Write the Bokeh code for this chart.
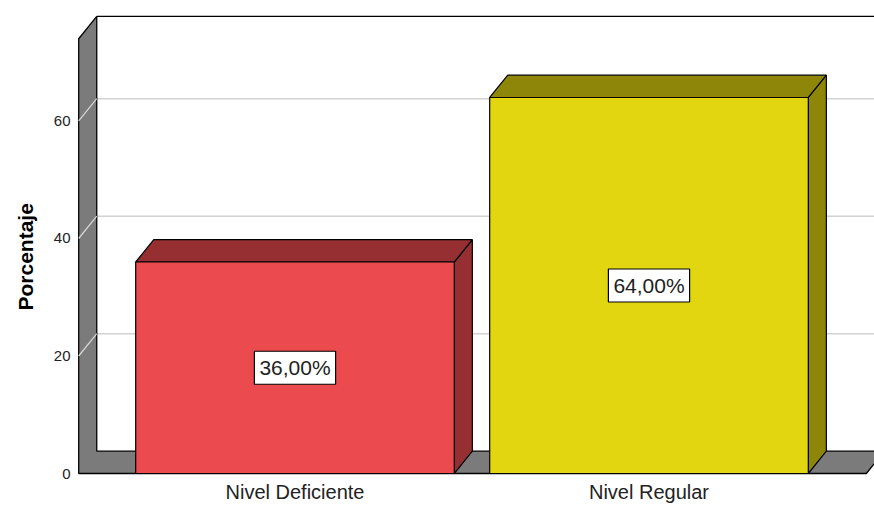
from bokeh.plotting import figure
from bokeh.models import FixedTicker, Range1d, Title
from bokeh.core.properties import value
from bokeh.embed import file_html
from bokeh.resources import INLINE

# ---- data ----
categories = ["Nivel Deficiente", "Nivel Regular"]
percentages = [36.0, 64.0]
value_labels = ["36,00%", "64,00%"]
y_ticks = [0, 20, 40, 60]
y_title = "Porcentaje"

# ---- style ----
front_colors = ["#EB4A4F", "#E2D611"]
shade_colors = ["#952F32", "#8E8608"]
WALL_COLOR = "#7B7B7B"
GRID_COLOR = "#D2D2D2"
FONT = "Liberation Sans"

BAR_W = 0.9      # bar width in category units
DX = 0.051       # 3D depth, x (category units)
DY = 3.8         # 3D depth, y (percent units)
WALL_X = -0.611  # front edge of the left wall
FLOOR_R = 1.614  # front right end of the floor
Y_TOP = 74       # top of the wall (front plane)
X0, X1 = -0.6285, 1.637
Y0, Y1 = -0.851, 80.51

p = figure(width=874, height=505, output_backend="svg", toolbar_location=None,
           x_range=Range1d(X0, X1), y_range=Range1d(Y0, Y1),
           min_border_left=72, min_border_right=0, min_border_top=0,
           min_border_bottom=25)
p.outline_line_color = None
p.background_fill_color = "white"
p.border_fill_color = "white"
p.xgrid.visible = False
p.ygrid.visible = False

# back wall gridlines
grid_vals = [t for t in y_ticks if t > 0]
far = X1 + 0.2
p.segment(x0=[WALL_X + DX] * len(grid_vals), y0=[v + DY for v in grid_vals],
          x1=[far] * len(grid_vals), y1=[v + DY for v in grid_vals],
          line_color=GRID_COLOR, line_width=1.5)
# back wall top edge
p.segment(x0=[WALL_X + DX], y0=[Y_TOP + DY], x1=[far], y1=[Y_TOP + DY],
          line_color="black", line_width=1.3)

# left wall + floor (L shape)
p.patch(x=[WALL_X, FLOOR_R, FLOOR_R + DX, WALL_X + DX, WALL_X + DX, WALL_X],
        y=[0, 0, DY, DY, Y_TOP + DY, Y_TOP],
        fill_color=WALL_COLOR, line_color="black", line_width=1.3)
# gridlines across the left wall
p.segment(x0=[WALL_X] * len(grid_vals), y0=grid_vals,
          x1=[WALL_X + DX] * len(grid_vals), y1=[v + DY for v in grid_vals],
          line_color="#D8D8D8", line_width=1.2)

positions = list(range(len(categories)))
for i, (xc, v) in enumerate(zip(positions, percentages)):
    l, r = xc - BAR_W / 2, xc + BAR_W / 2
    # side face
    p.patch(x=[r, r + DX, r + DX, r], y=[0, DY, v + DY, v],
            fill_color=shade_colors[i], line_color="black", line_width=1.2)
    # top face
    p.patch(x=[l, r, r + DX, l + DX], y=[v, v, v + DY, v + DY],
            fill_color=shade_colors[i], line_color="black", line_width=1.2)
    # front face
    p.quad(left=[l], right=[r], bottom=[0], top=[v],
           fill_color=front_colors[i], line_color="black", line_width=1.2)

p.text(x=positions, y=[v / 2 for v in percentages], text=value_labels,
       text_font=value(FONT), text_font_size="21px", text_color="#222222",
       text_align="center", text_baseline="middle",
       background_fill_color="white", border_line_color="black",
       border_line_width=1.2, padding=5)

# y-axis title
p.add_layout(Title(text=y_title, align="left", offset=168,
                   vertical_align="middle", standoff=25,
                   text_font=FONT, text_font_style="bold",
                   text_font_size="21px", text_color="black"), "left")

# axes
p.yaxis.ticker = FixedTicker(ticks=y_ticks)
p.yaxis.major_label_text_font = FONT
p.yaxis.major_label_text_font_size = "15px"
p.yaxis.major_label_text_color = "#222222"
p.yaxis.major_label_standoff = 2
p.yaxis.axis_line_color = None
p.yaxis.major_tick_line_color = None
p.yaxis.minor_tick_line_color = None
p.yaxis.major_tick_out = 0
p.yaxis.major_tick_in = 0

p.xaxis.ticker = FixedTicker(ticks=positions)
p.xaxis.major_label_overrides = {i: c for i, c in zip(positions, categories)}
p.xaxis.major_label_text_font = FONT
p.xaxis.major_label_text_font_size = "20px"
p.xaxis.major_label_text_color = "#222222"
p.xaxis.major_label_standoff = 2
p.xaxis.axis_line_color = None
p.xaxis.major_tick_line_color = None
p.xaxis.minor_tick_line_color = None
p.xaxis.major_tick_out = 0
p.xaxis.major_tick_in = 0

open("out.html", "w").write(file_html(p, INLINE))
